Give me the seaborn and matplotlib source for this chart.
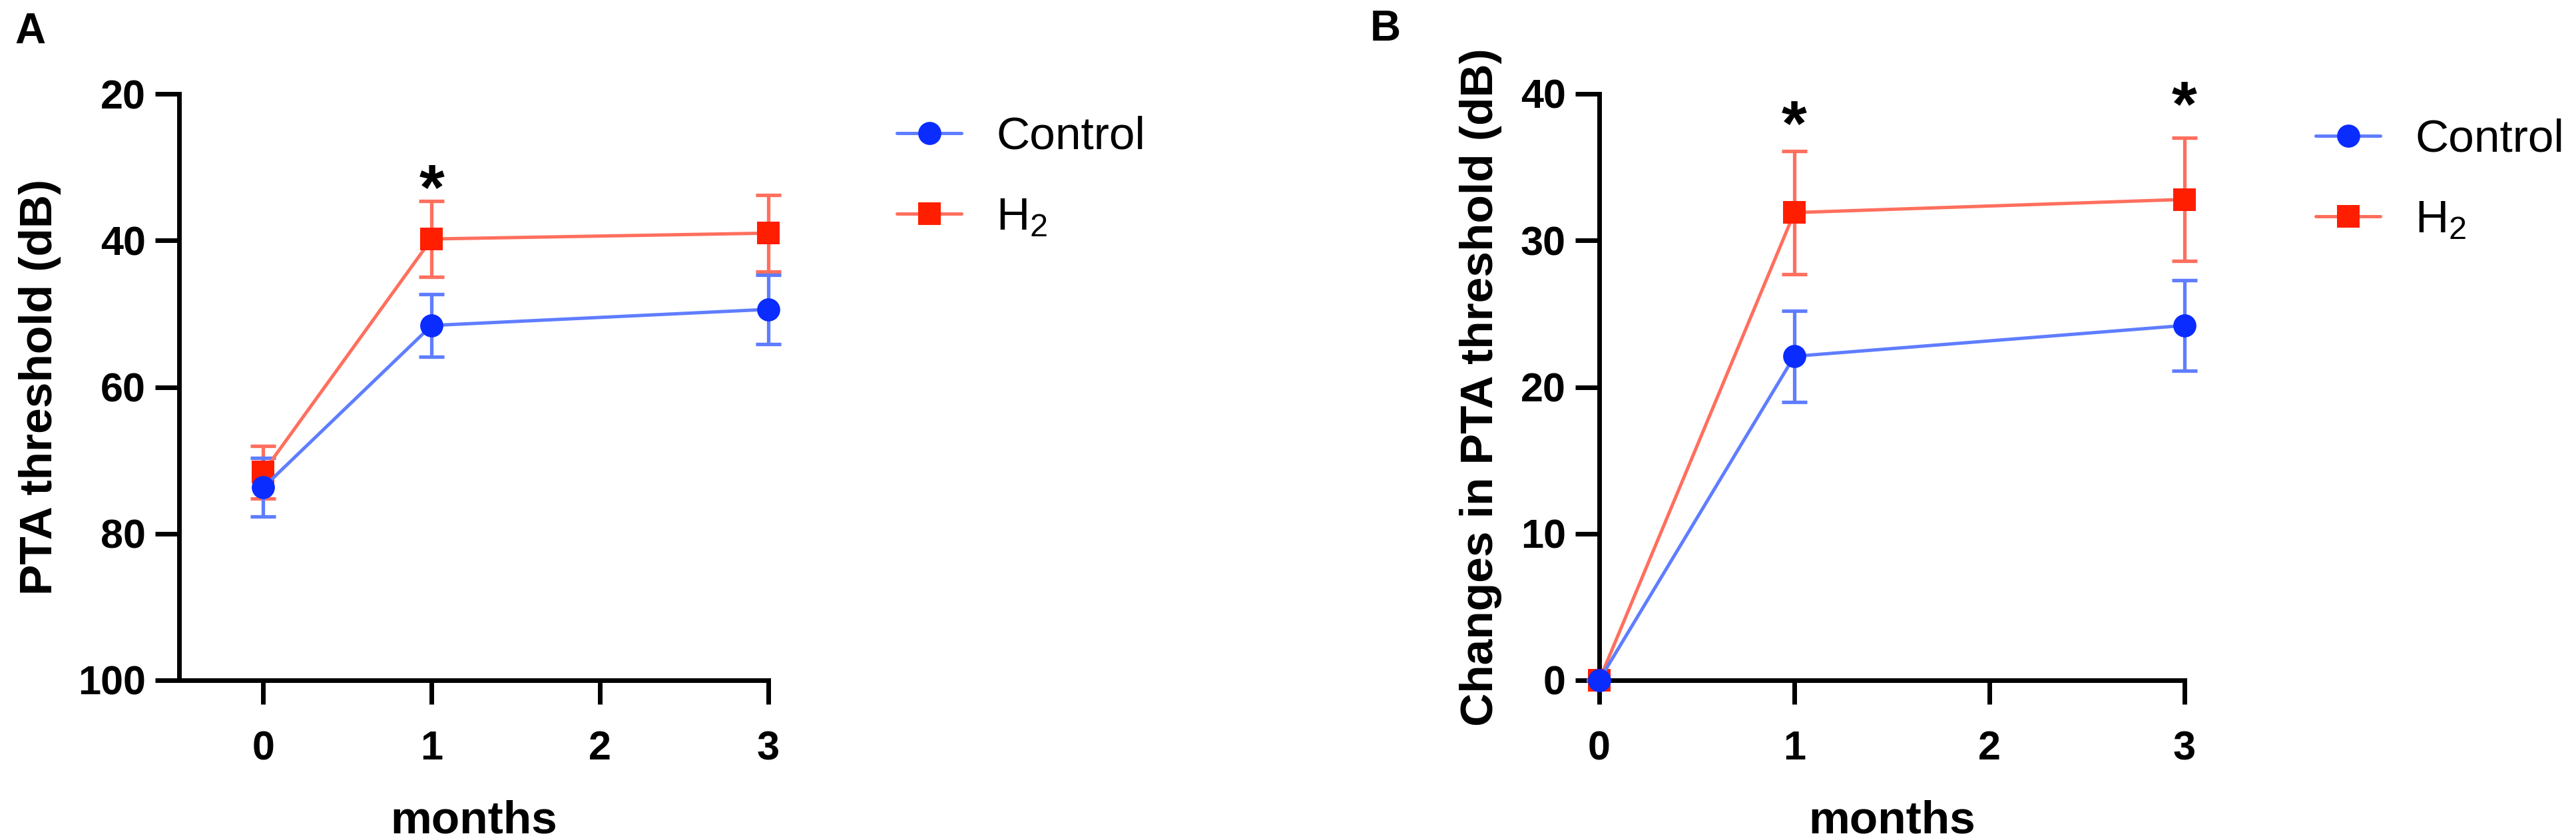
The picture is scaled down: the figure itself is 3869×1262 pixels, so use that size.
import numpy as np
import pandas as pd
import matplotlib
matplotlib.use("Agg")
import matplotlib.pyplot as plt
import seaborn as sns

# ---------------- data ----------------
months = [0, 1, 3]
groups = ["Control", "H$_2$"]

# Panel A: PTA threshold (dB)
a_control_mean = [73.7, 51.6, 49.4]
a_control_err = [4.0, 4.3, 4.7]
a_h2_mean = [71.6, 39.8, 39.0]
a_h2_err = [3.6, 5.2, 5.2]

# Panel B: change in PTA threshold (dB)
b_control_mean = [0.0, 22.1, 24.2]
b_control_err = [0.0, 3.1, 3.1]
b_h2_mean = [0.0, 31.9, 32.8]
b_h2_err = [0.0, 4.2, 4.2]

x_ticks = [0, 1, 2, 3]
a_yticks = [20, 40, 60, 80, 100]
b_yticks = [0, 10, 20, 30, 40]

# ---------------- style ----------------
sns.set_style("ticks")
plt.rcParams["font.family"] = ["Liberation Sans", "DejaVu Sans"]
plt.rcParams["mathtext.fontset"] = "custom"
plt.rcParams["mathtext.rm"] = "Liberation Sans"
plt.rcParams["mathtext.default"] = "regular"
plt.rcParams["text.color"] = "black"
plt.rcParams["axes.labelcolor"] = "black"
plt.rcParams["xtick.color"] = "black"
plt.rcParams["ytick.color"] = "black"

W, H = 3869, 1262
fig = plt.figure(figsize=(W / 100, H / 100), dpi=100)

def fx(px):
    return px / W

def fy(py):
    return 1 - py / H

ax_a = fig.add_axes([fx(269), fy(1022), fx(1154 - 269), (1022 - 141) / H])
ax_b = fig.add_axes([fx(2402), fy(1022), fx(3281 - 2402), (1022 - 141) / H])

blue_m = "#0a2cff"
blue_l = "#5f7dff"
red_m = "#ff1e00"
red_l = "#ff6f5e"

def draw(ax, c_mean, c_err, h_mean, h_err):
    df = pd.DataFrame({
        "month": months * 2,
        "value": list(c_mean) + list(h_mean),
        "group": [groups[0]] * 3 + [groups[1]] * 3,
    })
    # error bars
    ax.errorbar(months, h_mean, yerr=h_err, fmt="none", ecolor=red_l,
                elinewidth=3.8, capsize=14, capthick=3.8, zorder=2, clip_on=False)
    ax.errorbar(months, c_mean, yerr=c_err, fmt="none", ecolor=blue_l,
                elinewidth=3.8, capsize=14, capthick=3.8, zorder=2, clip_on=False)
    sns.lineplot(data=df[df.group == groups[1]], x="month", y="value", ax=ax,
                 color=red_l, lw=3.6, marker="s", ms=24, mfc=red_m, mec=red_m,
                 mew=0, label=groups[1], errorbar=None, clip_on=False, zorder=3)
    sns.lineplot(data=df[df.group == groups[0]], x="month", y="value", ax=ax,
                 color=blue_l, lw=3.6, marker="o", ms=25, mfc=blue_m, mec=blue_m,
                 mew=0, label=groups[0], errorbar=None, clip_on=False, zorder=4)

draw(ax_a, a_control_mean, a_control_err, a_h2_mean, a_h2_err)
draw(ax_b, b_control_mean, b_control_err, b_h2_mean, b_h2_err)

ax_a.set_xlim(-0.5, 3.0)
ax_a.set_ylim(100, 20)
ax_a.set_yticks(a_yticks)
ax_b.set_xlim(0, 3.0)
ax_b.set_ylim(0, 40)
ax_b.set_yticks(b_yticks)

for ax, ylab, ylp in [(ax_a, "PTA threshold (dB)", 18),
                      (ax_b, "Changes in PTA threshold (dB)", 20)]:
    ax.set_xticks(x_ticks)
    ax.set_xlabel("months", fontsize=50, fontweight="bold", labelpad=34, color="black")
    ax.set_ylabel(ylab, fontsize=50, fontweight="bold", labelpad=ylp, color="black")
    for s in ["top", "right"]:
        ax.spines[s].set_visible(False)
    for s in ["left", "bottom"]:
        ax.spines[s].set_linewidth(5)
        ax.spines[s].set_color("black")
    ax.tick_params(axis="both", width=5, length=26, labelsize=44,
                   color="black", labelcolor="black")
    ax.tick_params(axis="x", pad=28)
    ax.tick_params(axis="y", pad=10)
    for t in ax.get_xticklabels() + ax.get_yticklabels():
        t.set_fontweight("bold")
    h, l = ax.get_legend_handles_labels()
    order = [l.index(groups[0]), l.index(groups[1])]
    leg = ax.legend([h[i] for i in order], [l[i] for i in order], frameon=False,
                    fontsize=50, handlelength=1.4, handletextpad=0.75,
                    labelspacing=0.83, borderpad=0, borderaxespad=0,
                    loc="upper left", bbox_transform=fig.transFigure,
                    bbox_to_anchor=(fx(1347) if ax is ax_a else fx(3478),
                                    fy(174) if ax is ax_a else fy(178)))
    for t in leg.get_texts():
        t.set_color("black")

# significance marks
ax_a.text(1, 35.7, "*", ha="center", va="baseline", fontsize=70, fontweight="bold")
ax_b.text(1, 36.5, "*", ha="center", va="baseline", fontsize=70, fontweight="bold")
ax_b.text(3, 37.8, "*", ha="center", va="baseline", fontsize=70, fontweight="bold")

fig.text(fx(22), fy(18), "A", fontsize=46, fontweight="bold", va="top", ha="left")
fig.text(fx(2058), fy(14), "B", fontsize=46, fontweight="bold", va="top", ha="left")

fig.savefig("out.png", dpi=100)
